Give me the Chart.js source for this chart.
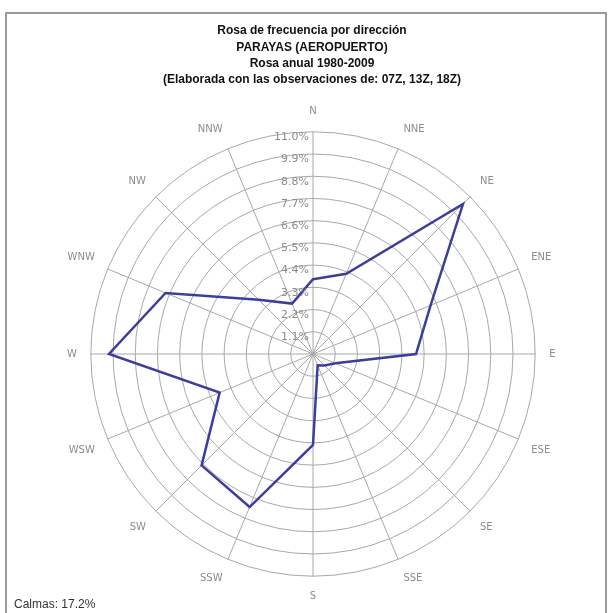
<!DOCTYPE html>
<html>
<head>
<meta charset="utf-8">
<script src="https://cdn.jsdelivr.net/npm/chart.js@4/dist/chart.umd.min.js"></script>
<style>
  html, body { margin: 0; padding: 0; background: #fff; }
  #marco { position: absolute; left: 5px; top: 12px; width: 598px; height: 620px; border: 2px solid #9a9a9a; border-bottom: none; }
  #lienzo { position: absolute; left: 0; top: 0; width: 610px; height: 613px; }
  #calmas { position: absolute; left: 14px; top: 597px; font: 12px "Liberation Sans", Arial, sans-serif; color: #333; }
</style>
</head>
<body>
<div id="marco"></div>
<div id="lienzo"><canvas id="rosa"></canvas></div>
<div id="calmas">Calmas: 17.2%</div>
<script>
const direcciones = ["N","NNE","NE","ENE","E","ESE","SE","SSE","S","SSW","SW","WSW","W","WNW","NW","NNW"];
const frecuencias = [3.7, 4.3, 10.5, 6.3, 5.1, 1.2, 0.8, 0.6, 4.5, 8.2, 7.8, 5.0, 10.1, 7.9, 3.8, 2.7];
const titulo = [
  "Rosa de frecuencia por dirección",
  "PARAYAS (AEROPUERTO)",
  "Rosa anual 1980-2009",
  "(Elaborada con las observaciones de: 07Z, 13Z, 18Z)"
];
const pasoPct = 1.1;
const maxPct  = 11;

// etiquetas de porcentaje a la izquierda del eje N
const etiquetasPct = {
  id: "etiquetasPct",
  afterDraw(chart) {
    const r = chart.scales.r;
    const ctx = chart.ctx;
    ctx.save();
    ctx.font = '11px "DejaVu Sans", sans-serif';
    ctx.fillStyle = "#8c8c8c";
    ctx.textAlign = "right";
    ctx.textBaseline = "top";
    r.ticks.forEach(t => {
      if (t.value <= 0) return;
      const y = r.yCenter - r.getDistanceFromCenterForValue(t.value);
      ctx.fillText(t.value.toFixed(1) + "%", r.xCenter - 4, y);
    });
    ctx.restore();
  }
};

new Chart(document.getElementById("rosa"), {
  type: "radar",
  data: {
    labels: direcciones,
    datasets: [{
      data: frecuencias,
      borderColor: "#3d3d9e",
      borderWidth: 2.5,
      fill: false,
      pointRadius: 0,
      tension: 0
    }]
  },
  options: {
    responsive: true,
    maintainAspectRatio: false,
    animation: false,
    layout: { padding: { left: 65, right: 51, top: 14, bottom: 10 } },
    plugins: {
      legend: { display: false },
      tooltip: { enabled: false },
      title: {
        display: true,
        text: titulo,
        color: "#111",
        font: { family: "'Liberation Sans', Arial, sans-serif", size: 12, weight: "bold", lineHeight: 1.35 },
        padding: { top: 9, bottom: 18 }
      }
    },
    scales: {
      r: {
        min: 0,
        max: maxPct,
        ticks: { stepSize: pasoPct, display: false },
        grid: { circular: true, color: "#a8a8a8", lineWidth: 1 },
        angleLines: { color: "#a8a8a8", lineWidth: 1 },
        pointLabels: {
          color: "#8c8c8c",
          padding: 14,
          font: { family: "'DejaVu Sans', sans-serif", size: 10 }
        }
      }
    }
  },
  plugins: [etiquetasPct]
});
</script>
</body>
</html>
